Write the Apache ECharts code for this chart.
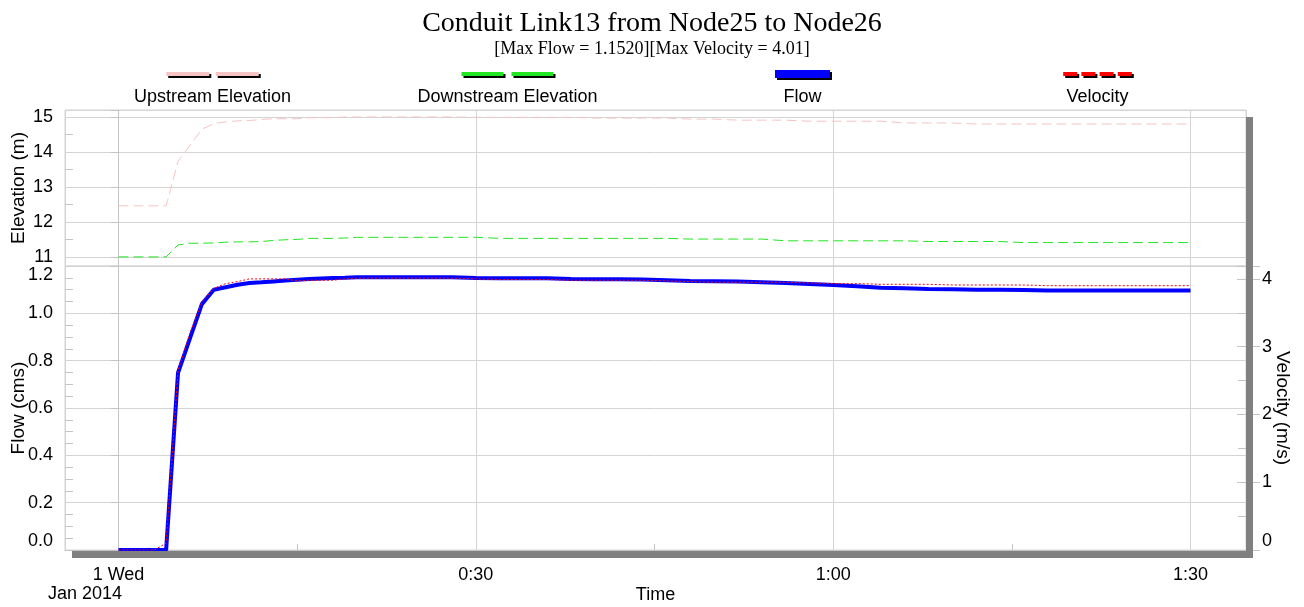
<!DOCTYPE html>
<html>
<head>
<meta charset="utf-8">
<script src="https://cdn.jsdelivr.net/npm/echarts@6/dist/echarts.min.js"></script>
<style>
  html, body { margin: 0; padding: 0; background: #fff; }
  #chart { width: 1304px; height: 607px; }
</style>
</head>
<body>
<div id="chart"></div>
<script>
// ---- Simulation results for conduit Link13 (minutes after 00:00, 1 Jan 2014) ----
const minutes = [0, 1, 2, 3, 4, 5, 6, 7, 8, 9, 10, 11, 12, 13, 14, 15, 16, 17, 18, 19, 20,
  22, 24, 26, 28, 30, 32, 34, 36, 38, 40, 42, 44, 46, 48, 50, 52, 54, 56, 58, 60,
  62, 64, 66, 68, 70, 72, 74, 76, 78, 80, 82, 84, 86, 88, 90];

const upstreamElev = [12.46, 12.46, 12.46, 12.46, 12.46, 13.73, 14.19, 14.65, 14.81, 14.86, 14.89,
  14.90, 14.93, 14.95, 14.95, 14.95, 14.98, 14.98, 14.98, 15.00, 15.00,
  15.00, 15.00, 15.00, 15.00, 14.99, 14.99, 14.99, 14.99, 14.99, 14.97, 14.97, 14.97, 14.97, 14.94, 14.94,
  14.91, 14.91, 14.91, 14.88, 14.88, 14.88, 14.88, 14.83, 14.83, 14.83,
  14.80, 14.80, 14.80, 14.80, 14.80, 14.80, 14.80, 14.80, 14.80, 14.80];

const downstreamElev = [11.00, 11.00, 11.00, 11.00, 11.00, 11.34, 11.39, 11.39, 11.40, 11.42, 11.43,
  11.43, 11.44, 11.47, 11.49, 11.50, 11.53, 11.53, 11.53, 11.54, 11.56,
  11.56, 11.56, 11.56, 11.56, 11.56, 11.53, 11.53, 11.53, 11.53, 11.53, 11.53, 11.53, 11.53, 11.51, 11.51,
  11.51, 11.51, 11.46, 11.46, 11.46, 11.46, 11.46, 11.46, 11.44, 11.44,
  11.44, 11.44, 11.41, 11.41, 11.41, 11.41, 11.41, 11.41, 11.41, 11.41];

const flow = [0, 0, 0, 0, 0, 0.749, 0.894, 1.039, 1.100, 1.110, 1.121,
  1.128, 1.131, 1.135, 1.139, 1.142, 1.145, 1.147, 1.149, 1.150, 1.152,
  1.152, 1.152, 1.152, 1.152, 1.149, 1.148, 1.148, 1.148, 1.145, 1.144, 1.144, 1.143, 1.140, 1.137, 1.136,
  1.134, 1.131, 1.128, 1.124, 1.120, 1.114, 1.108, 1.106, 1.103, 1.102,
  1.100, 1.100, 1.099, 1.097, 1.097, 1.097, 1.097, 1.097, 1.097, 1.097];

const velocity = [0, 0, 0, 0, 0.10, 2.65, 3.20, 3.66, 3.86, 3.93, 3.96,
  4.00, 4.00, 4.00, 4.00, 3.97, 3.98, 3.98, 3.98, 4.00, 4.01,
  4.01, 4.01, 4.01, 4.01, 4.00, 3.99, 3.99, 3.99, 3.98, 3.98, 3.98, 3.98, 3.97, 3.96, 3.95,
  3.95, 3.95, 3.95, 3.94, 3.93, 3.93, 3.92, 3.92, 3.92, 3.91,
  3.91, 3.91, 3.91, 3.90, 3.90, 3.90, 3.90, 3.90, 3.90, 3.90];

const seriesNames = ['Upstream Elevation', 'Downstream Elevation', 'Flow', 'Velocity'];
const seriesColors = ['#f6c4c4', '#22e622', '#0000ff', '#ff0000'];

const timeTicks = [0, 30, 60, 90];
const timeTickLabels = ['1 Wed', '0:30', '1:00', '1:30'];

// ---- Layout ----
const PLOT_L = 65, PLOT_R = 1246, PLOT_T = 110, PLOT_MID = 266, PLOT_B = 550;
const SHADOW = 7;
const T_MIN = -4.49, T_MAX = 94.66;
const FONT = 'Liberation Sans';
const GRID_COLOR = '#d4d4d4';
const AXIS_COLOR = '#c4c4c4';

const pairs = (xs, ys) => xs.map((x, i) => [x, ys[i]]);
const isWhole = (v) => Math.abs(v - Math.round(v)) < 1e-6;

const maxFlow = Math.max(...flow);
const maxVel = Math.max(...velocity);

const labelStyle = { color: '#000', fontFamily: FONT, fontSize: 18 };
const nameStyle = { color: '#000', fontFamily: FONT, fontSize: 19 };

// Legend: icon row above a label row, one column per series
const LEGEND_X0 = 212.5, LEGEND_STEP = 295, LEGEND_ICON_Y = 74, LEGEND_TEXT_Y = 96;
const legendIcons = [
  { n: 2, w: 43, gap: 6.5, h: 4 },
  { n: 2, w: 42, gap: 8, h: 4 },
  { n: 1, w: 55, gap: 0, h: 8 },
  { n: 4, w: 14, gap: 4.2, h: 4 }
];

const graphics = [];
seriesNames.forEach((name, i) => {
  const cx = LEGEND_X0 + i * LEGEND_STEP;
  const ic = legendIcons[i];
  const total = ic.n * ic.w + (ic.n - 1) * ic.gap;
  const x0 = cx - total / 2;
  const y0 = LEGEND_ICON_Y - ic.h / 2;
  for (let k = 0; k < ic.n; k++) {
    const x = x0 + k * (ic.w + ic.gap);
    graphics.push({ type: 'rect', silent: true, z: 50,
      shape: { x: x + 2, y: y0 + 2, width: ic.w, height: ic.h }, style: { fill: '#000' } });
    graphics.push({ type: 'rect', silent: true, z: 51,
      shape: { x: x, y: y0, width: ic.w, height: ic.h }, style: { fill: seriesColors[i] } });
  }
  graphics.push({ type: 'text', silent: true, z: 51, x: cx, y: LEGEND_TEXT_Y + 1,
    style: { text: name, fill: '#000', fontFamily: FONT, fontSize: 18, align: 'center', verticalAlign: 'middle' } });
});

// Raised-panel shadow along the right and bottom edges of the plot
graphics.push({ type: 'rect', silent: true, z: 60,
  shape: { x: PLOT_R, y: PLOT_T + SHADOW, width: SHADOW, height: PLOT_B - PLOT_T + 1 },
  style: { fill: '#808080' } });
graphics.push({ type: 'rect', silent: true, z: 60,
  shape: { x: PLOT_L + SHADOW, y: PLOT_B + 1, width: PLOT_R - PLOT_L, height: SHADOW },
  style: { fill: '#808080' } });
// Month/year under the first date label
graphics.push({ type: 'text', silent: true, z: 51, x: 48, y: 594,
  style: { text: 'Jan 2014', fill: '#000', fontFamily: FONT, fontSize: 18, align: 'left', verticalAlign: 'middle' } });

const chart = echarts.init(document.getElementById('chart'), null, { renderer: 'canvas' });

const timeLabel = (v) => {
  const idx = timeTicks.findIndex((t) => Math.abs(t - v) < 1e-6);
  return idx >= 0 ? timeTickLabels[idx] : '';
};

const option = {
  animation: false,
  backgroundColor: '#fff',
  title: [
    { text: 'Conduit Link13 from Node25 to Node26', left: 'center', top: 5,
      textStyle: { fontFamily: 'Liberation Serif', fontSize: 28, fontWeight: 'normal', color: '#000' } },
    { text: '[Max Flow = ' + maxFlow.toFixed(4) + '][Max Velocity = ' + maxVel.toFixed(2) + ']',
      left: 'center', top: 35,
      textStyle: { fontFamily: 'Liberation Serif', fontSize: 18, fontWeight: 'normal', color: '#000' } }
  ],
  grid: [
    { left: PLOT_L, top: PLOT_T, width: PLOT_R - PLOT_L, height: PLOT_MID - PLOT_T,
      show: true, borderColor: GRID_COLOR, borderWidth: 1, backgroundColor: 'transparent', outerBoundsMode: 'none' },
    { left: PLOT_L, top: PLOT_MID, width: PLOT_R - PLOT_L, height: PLOT_B - PLOT_MID,
      show: true, borderColor: GRID_COLOR, borderWidth: 1, backgroundColor: 'transparent', outerBoundsMode: 'none' }
  ],
  xAxis: [
    { gridIndex: 0, type: 'value', min: T_MIN, max: T_MAX, splitNumber: 3,
      axisLine: { show: false }, axisTick: { show: false }, axisLabel: { show: false },
      splitLine: { show: true, lineStyle: { color: GRID_COLOR, width: 1 } } },
    { gridIndex: 1, type: 'value', min: T_MIN, max: T_MAX, splitNumber: 3,
      name: 'Time', nameLocation: 'middle', nameGap: 36, nameMoveOverlap: false, nameTextStyle: labelStyle,
      axisLine: { show: true, onZero: false, lineStyle: { color: AXIS_COLOR } },
      axisTick: { show: false, inside: true },
      minorTick: { show: true, splitNumber: 2, length: 6, lineStyle: { color: AXIS_COLOR } },
      axisLabel: Object.assign({ formatter: timeLabel, margin: 16 }, labelStyle),
      splitLine: { show: true, lineStyle: { color: GRID_COLOR, width: 1 } } }
  ],
  yAxis: [
    // 0: elevation
    { gridIndex: 0, type: 'value', position: 'left', min: 10.74, max: 15.2, splitNumber: 4,
      name: 'Elevation (m)', nameLocation: 'middle', nameGap: 37, nameMoveOverlap: false, nameTextStyle: nameStyle,
      axisLine: { show: true, lineStyle: { color: AXIS_COLOR } },
      axisTick: { show: true, inside: false, length: 8, lineStyle: { color: AXIS_COLOR } },
      axisLabel: Object.assign({ formatter: (v) => (isWhole(v) ? String(Math.round(v)) : ''), margin: 12 }, labelStyle),
      splitLine: { show: true, lineStyle: { color: GRID_COLOR, width: 1 } } },
    // 1: elevation minor ticks
    { gridIndex: 0, type: 'value', position: 'left', min: 10.74, max: 15.2, splitNumber: 4,
      axisLine: { show: false }, axisTick: { show: false, inside: true }, axisLabel: { show: false },
      minorTick: { show: true, splitNumber: 2, length: 8, lineStyle: { color: AXIS_COLOR } },
      splitLine: { show: false } },
    // 2: flow
    { gridIndex: 1, type: 'value', position: 'left', min: 0, max: 1.2, interval: 0.2,
      name: 'Flow (cms)', nameLocation: 'middle', nameGap: 37, nameMoveOverlap: false, nameTextStyle: nameStyle,
      axisLine: { show: true, lineStyle: { color: AXIS_COLOR } },
      axisTick: { show: true, inside: false, length: 8, lineStyle: { color: AXIS_COLOR } },
      axisLabel: Object.assign({ formatter: (v) => v.toFixed(1), margin: 12,
        verticalAlignMinLabel: 'bottom', verticalAlignMaxLabel: 'top' }, labelStyle),
      splitLine: { show: true, lineStyle: { color: GRID_COLOR, width: 1 } } },
    // 3: flow minor ticks
    { gridIndex: 1, type: 'value', position: 'left', min: 0, max: 1.2, interval: 0.2,
      axisLine: { show: false }, axisTick: { show: false, inside: true }, axisLabel: { show: false },
      minorTick: { show: true, splitNumber: 4, length: 8, lineStyle: { color: AXIS_COLOR } },
      splitLine: { show: false } },
    // 4: velocity
    { gridIndex: 1, type: 'value', position: 'right', min: 0, max: 4.19, interval: 1,
      name: 'Velocity (m/s)', nameLocation: 'middle', nameGap: 27, nameRotate: -90, nameMoveOverlap: false,
      nameTextStyle: nameStyle,
      axisLine: { show: false },
      axisTick: { show: true, inside: false, length: 14, lineStyle: { color: AXIS_COLOR } },
      axisLabel: Object.assign({ formatter: (v) => (isWhole(v) ? String(Math.round(v)) : ''), margin: 16,
        verticalAlignMinLabel: 'bottom' }, labelStyle),
      splitLine: { show: false } },
    // 5: velocity inner ticks
    { gridIndex: 1, type: 'value', position: 'right', min: 0, max: 4.19, interval: 1,
      axisLine: { show: false }, axisLabel: { show: false },
      axisTick: { show: true, inside: true, length: 9, lineStyle: { color: AXIS_COLOR } },
      minorTick: { show: true, splitNumber: 2, length: 8, lineStyle: { color: AXIS_COLOR } },
      splitLine: { show: false } }
  ],
  series: [
    { name: seriesNames[0], type: 'line', xAxisIndex: 0, yAxisIndex: 0, data: pairs(minutes, upstreamElev),
      showSymbol: false, z: 3, lineStyle: { color: seriesColors[0], width: 1, type: [10, 5] } },
    { name: seriesNames[1], type: 'line', xAxisIndex: 0, yAxisIndex: 0, data: pairs(minutes, downstreamElev),
      showSymbol: false, z: 3, lineStyle: { color: seriesColors[1], width: 1, type: [10, 5] } },
    { name: seriesNames[2], type: 'line', xAxisIndex: 1, yAxisIndex: 2, data: pairs(minutes, flow),
      showSymbol: false, z: 3, lineStyle: { color: seriesColors[2], width: 4 } },
    { name: seriesNames[3], type: 'line', xAxisIndex: 1, yAxisIndex: 4, data: pairs(minutes, velocity),
      showSymbol: false, z: 4, lineStyle: { color: seriesColors[3], width: 1, type: [2, 2] } }
  ],
  graphic: graphics
};

chart.setOption(option);
</script>
</body>
</html>
